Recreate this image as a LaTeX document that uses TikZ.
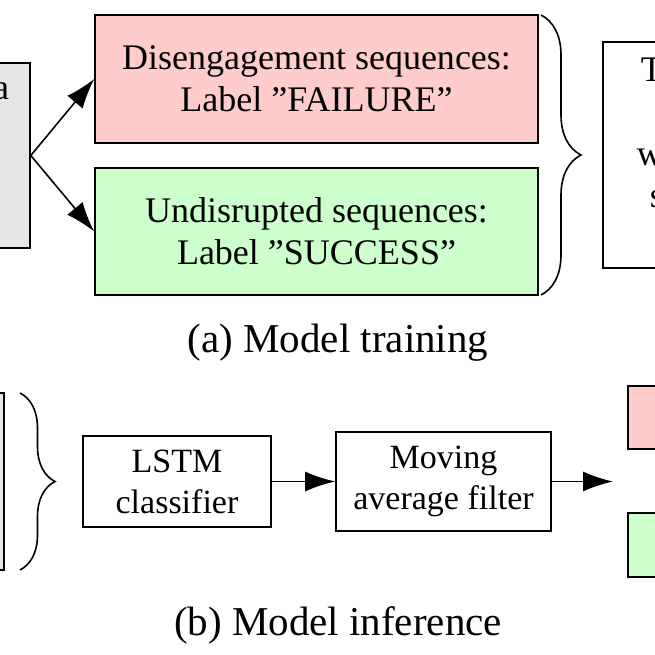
\documentclass[tikz,border=0pt]{standalone}
\usepackage{fontspec}
\setmainfont{Liberation Serif}
\usetikzlibrary{arrows.meta,decorations.pathreplacing}
\begin{document}
\begin{tikzpicture}[x=1pt,y=-1pt,font=\fontsize{36}{42}\selectfont,line width=1.6pt,>={Latex[length=30pt,width=20pt]}]
    \tikzstyle{block}=[rectangle,draw=black,align=center,inner sep=0pt]
    \tikzstyle{datablock}=[block,fill=gray!20]
    \tikzstyle{failblock}=[block,fill=red!20]
    \tikzstyle{okblock}=[block,fill=green!20]
    \tikzstyle{stage}=[block,font=\fontsize{34}{41}\selectfont]
    \tikzstyle{cut}=[inner sep=0pt]
    \tikzstyle{caption}=[font=\fontsize{41}{48}\selectfont]
    \tikzstyle{seqbrace}=[decorate,decoration={brace,amplitude=#1}]

    \useasboundingbox (0,0) rectangle (655,655);
    \clip (0,0) rectangle (655,655);

    % (a) model training
    \node[datablock,minimum width=230pt,minimum height=185pt] (data) at (-85,155.5) {};
    \node[cut,anchor=base east] (dataend) at (10,100) {a};

    \node[failblock,minimum width=443pt,minimum height=128pt] (diseng) at (316.5,79) {Disengagement sequences:\\Label ''FAILURE''};
    \node[okblock,minimum width=443pt,minimum height=127pt] (undis) at (316.5,231.5) {Undisrupted sequences:\\Label ''SUCCESS''};

    \draw[->] (data.east) -- (diseng.west);
    \draw[->] (data.east) -- (undis.west);

    \draw[seqbrace=40pt] (541,15) -- (541,295);

    \node[block,minimum width=234pt,minimum height=226pt] (train) at (720,155) {};
    \node[cut,anchor=base west] (trainl1) at (640,82) {T};
    \node[cut,anchor=base west] (trainl3) at (636,165) {w};
    \node[cut,anchor=base west] (trainl4) at (649,207) {s};

    \node[caption] (capa) at (338,343) {(a) Model training};

    % (b) model inference
    \node[datablock,minimum width=208pt,minimum height=177pt] (seqin) at (-100,481.5) {};
    \draw[seqbrace=35pt] (20,393) -- (20,570);

    \node[stage,minimum width=188pt,minimum height=91pt] (lstm) at (177,481.5) {LSTM\\classifier};
    \node[stage,minimum width=215pt,minimum height=99pt] (mavg) at (443.5,481.5) {Moving\\average filter};
    \coordinate (out) at (613,481.5);

    \draw[->] (lstm) -- (mavg);
    \draw[->] (mavg) -- (out);

    \node[failblock,minimum width=200pt,minimum height=63pt] (predfail) at (728,417.5) {};
    \node[okblock,minimum width=200pt,minimum height=64pt] (predok) at (728,545) {};

    \node[caption] (capb) at (338,625) {(b) Model inference};
\end{tikzpicture}
\end{document}
